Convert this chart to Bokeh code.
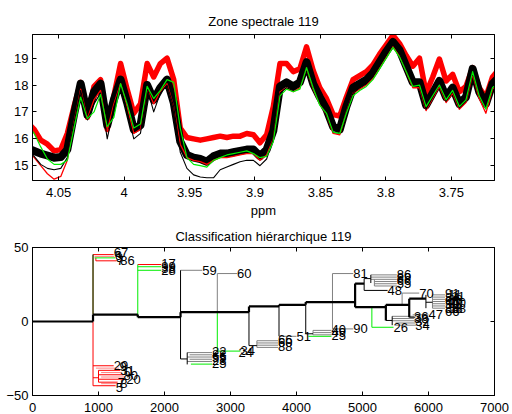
from bokeh.plotting import figure
from bokeh.models import Range1d, LinearAxis, FixedTicker
from bokeh.layouts import column
from bokeh.embed import file_html
from bokeh.resources import INLINE
from bokeh.core.properties import value

FONT = "Liberation Sans"
FS = "13px"

# ---------------- spectra (top plot) ----------------
ppm = [4.0738, 4.0687, 4.0637, 4.0586, 4.0535, 4.0484, 4.0434, 4.0383,
       4.0332, 4.0281, 4.0230, 4.0180, 4.0129, 4.0078, 4.0027, 3.9977,
       3.9926, 3.9875, 3.9824, 3.9774, 3.9723, 3.9672, 3.9621, 3.9571,
       3.9520, 3.9469, 3.9418, 3.9368, 3.9317, 3.9266, 3.9215, 3.9165,
       3.9114, 3.9063, 3.9012, 3.8962, 3.8911, 3.8860, 3.8809, 3.8759,
       3.8708, 3.8657, 3.8606, 3.8556, 3.8505, 3.8454, 3.8403, 3.8352,
       3.8302, 3.8251, 3.8200, 3.8149, 3.8099, 3.8048, 3.7997, 3.7946,
       3.7896, 3.7845, 3.7794, 3.7743, 3.7693, 3.7642, 3.7591, 3.7540,
       3.7490, 3.7439, 3.7388, 3.7337, 3.7287, 3.7236, 3.7185, 3.7134]

red_hi = [16.6, 16.35, 15.95, 15.8, 15.55, 15.6, 16.2, 17.2,
          18.1, 16.8, 17.95, 18.2, 16.35, 17.6, 18.8, 17.85,
          16.95, 17.3, 18.8, 18.3, 18.8, 19.0, 18.2, 16.4,
          16.05, 16.0, 15.95, 16.0, 16.05, 16.1, 16.05, 16.1,
          16.1, 16.2, 16.15, 15.85, 16.15, 17.2, 18.8, 18.8,
          18.5, 18.6, 19.42, 18.55, 17.9, 17.5, 16.9, 16.85,
          17.55, 18.2, 18.35, 18.5, 18.75, 19.15, 19.5, 19.85,
          19.55, 19.1, 18.7, 19.0, 17.7, 18.3, 18.97, 18.15,
          18.4, 17.75, 17.95, 18.65, 17.9, 17.55, 18.3, 18.6]

black_mid = [15.65, 15.55, 15.45, 15.38, 15.3, 15.32, 15.6, 16.9,
             18.05, 16.9, 17.75, 18.05, 16.5, 17.45, 18.2, 17.35,
             16.35, 16.5, 18.0, 17.45, 17.9, 18.2, 17.35, 15.9,
             15.4, 15.3, 15.25, 15.15, 15.35, 15.45, 15.45, 15.5,
             15.55, 15.6, 15.6, 15.35, 15.6, 16.3, 17.95, 18.1,
             17.95, 18.1, 18.85, 18.05, 17.55, 17.1, 16.45, 16.35,
             17.2, 17.9, 18.05, 18.2, 18.45, 18.85, 19.25, 19.6,
             19.3, 18.7, 18.1, 18.1, 17.25, 17.7, 18.15, 17.55,
             17.9, 17.3, 17.55, 18.6, 17.75, 17.3, 18.05, 18.3]

red_lo = [15.6, 15.3, 15.0, 14.7, 14.5, 14.6, 15.2, 16.6,
          17.85, 16.75, 17.45, 17.8, 16.3, 17.3, 18.05, 17.2,
          16.2, 16.35, 17.85, 17.3, 17.75, 18.05, 17.2, 15.8,
          15.3, 15.2, 15.15, 15.05, 15.2, 15.3, 15.3, 15.35,
          15.4, 15.45, 15.45, 15.2, 15.4, 16.0, 17.75, 17.9,
          17.75, 17.9, 18.65, 17.85, 17.3, 16.9, 16.2, 16.15,
          17.0, 17.7, 17.85, 18.0, 18.25, 18.65, 19.05, 19.45,
          19.1, 18.5, 17.9, 17.9, 17.05, 17.5, 17.95, 17.35,
          17.7, 17.1, 17.35, 18.4, 17.5, 16.95, 17.85, 18.1]

black_lo = [15.5, 15.35, 15.05, 14.9, 14.85, 14.9, 15.3, 16.6,
            17.8, 16.7, 17.3, 17.7, 16.0, 17.2, 18.0, 17.0,
            16.0, 16.2, 17.9, 17.0, 17.7, 18.0, 17.2, 15.5,
            14.9, 14.66, 14.58, 14.55, 14.55, 14.85, 14.95, 15.05,
            15.15, 15.2, 15.2, 15.0, 15.25, 16.0, 17.7, 17.9,
            17.8, 17.95, 18.7, 17.9, 17.35, 16.9, 16.25, 16.2,
            17.0, 17.7, 17.9, 18.05, 18.3, 18.7, 19.1, 19.5,
            19.15, 18.55, 17.95, 17.95, 17.1, 17.55, 18.0, 17.4,
            17.75, 17.15, 17.4, 18.45, 17.6, 17.15, 17.9, 18.15]

green = [16.5, 16.2, 15.7, 15.25, 15.05, 15.05, 15.2, 16.4,
         17.55, 16.75, 17.0, 17.65, 16.45, 16.8, 18.05, 17.3,
         16.4, 16.55, 17.95, 17.5, 17.8, 18.2, 18.1, 16.4,
         15.3, 15.05, 15.0, 14.95, 15.2, 15.3, 15.4, 15.45,
         15.5, 15.55, 15.45, 15.3, 15.35, 15.9, 17.6, 17.85,
         17.75, 17.85, 18.65, 17.9, 17.25, 16.95, 16.25, 16.2,
         16.95, 17.6, 17.8, 17.95, 18.2, 18.6, 19.0, 19.4,
         19.05, 18.5, 17.95, 18.0, 17.2, 17.6, 18.0, 17.45,
         17.8, 17.2, 17.45, 18.5, 17.6, 17.1, 17.9, 18.15]

ppm_ticks = [4.05, 4.0, 3.95, 3.9, 3.85, 3.8, 3.75]
ppm_labels = ["4.05", "4", "3.95", "3.9", "3.85", "3.8", "3.75"]
int_ticks = [15, 16, 17, 18, 19]

# ---------------- dendrogram (bottom plot) ----------------
trunk_x0 = [0, 917, 917, 1595, 1595, 2243, 2243, 3280, 3280, 3735, 3735, 4140, 4140, 4888, 4888, 4888, 5354, 5354, 5708, 5708]
trunk_y0 = [0, 0, 4.7, 4.7, 2.9, 2.9, 6.3, 6.3, 10.2, 10.2, 11.3, 11.3, 13.1, 9.7, 25.6, 9.7, 0.7, 11.3, 2.9, 15.4]
trunk_x1 = [917, 917, 1595, 1595, 2243, 2243, 3280, 3280, 3735, 3735, 4140, 4140, 4888, 4888, 5025, 5354, 5354, 5708, 5708, 5961]
trunk_y1 = [0, 4.7, 4.7, 2.9, 2.9, 6.3, 6.3, 10.2, 10.2, 11.3, 11.3, 13.1, 13.1, 25.6, 25.6, 9.7, 11.3, 11.3, 15.4, 15.4]

blk_x0 = [2243, 2243, 2344, 3280, 3280, 3735, 4140, 4140, 5025, 5025, 5126, 5354, 5450, 5961, 5961, 5025, 5708]
blk_y0 = [-25.3, -25.3, -21, -16.3, -16.3, -10, -8.3, -8.3, 21, 29, 26, 0.7, -2.5, 9, 13, 21, 2.9]
blk_x1 = [2243, 2344, 2344, 3280, 3400, 3735, 4140, 4250, 5025, 5126, 5126, 5450, 5450, 5961, 6060, 5380, 5800]
blk_y1 = [34.6, -25.3, -29, 6.3, -16.3, 10.2, 11.3, -8.3, 29, 29, 31.5, 0.7, 3.5, 18, 13, 21, 2.9]

gry_x0 = [2243, 2800, 2800, 4545, 4545, 4545, 3735,
          2344, 2380, 2344, 2380, 2344,
          3400, 3400, 3400, 3400, 3400,
          4250, 4250, 4250, 4250,
          5126, 5126, 5126, 5180, 5180, 5180, 5180,
          5600, 5600,
          5450, 5450, 5450, 5500, 5500, 5760,
          6060, 6060, 6060, 6060, 6060, 6060, 6060, 6060]
gry_y0 = [34.6, 6.3, 32.4, -5, 32.4, -5, -10,
          -21, -22.5, -24, -25.5, -27,
          -13, -14.5, -16, -17.5, -13,
          -6, -7.5, -9, -6,
          31.5, 30, 28.5, 27, 25.5, 24, 24,
          11.3, 19.2,
          3.5, 2, 0.5, -1, -2.5, 4.5,
          18, 16.5, 15, 13.5, 12, 10.5, 9, 9]
gry_x1 = [2571, 2800, 3100, 4545, 4860, 4860, 4000,
          2720, 2720, 2720, 2720, 2720,
          3720, 3720, 3720, 3720, 3400,
          4530, 4530, 4530, 4250,
          5520, 5520, 5520, 5520, 5520, 5520, 5180,
          5600, 5860,
          5780, 5780, 5800, 5800, 5820, 6000,
          6250, 6250, 6250, 6250, 6250, 6250, 6250, 6060]
gry_y1 = [34.6, 32.4, 32.4, 32.4, 32.4, -5, -10,
          -21, -22.5, -24, -25.5, -27,
          -13, -14.5, -16, -17.5, -17.5,
          -6, -7.5, -9, -9,
          31.5, 30, 28.5, 27, 25.5, 24, 28.5,
          19.2, 19.2,
          3.5, 2, 0.5, -1, -2.5, 4.5,
          18, 16.5, 15, 13.5, 12, 10.5, 9, 18]

red_x0 = [917, 917, 917, 1000, 1000, 1000, 1000, 1000, 917, 917, 960, 960, 1595]
red_y0 = [0, -29.9, -38, -33, -33, -36, -39, -41, -43.4, 45.2, 41, 41, 38.5]
red_x1 = [917, 1230, 1000, 1000, 1330, 1380, 1420, 1290, 1260, 1230, 1270, 960, 1950]
red_y1 = [-43.4, -29.9, -38, -41, -33, -36, -39, -41, -43.4, 45.2, 41, 43, 38.5]

pink_x0 = [960, 1040, 1040, 1040, 940]
pink_y0 = [-31.5, -34.5, -37.5, -42, 44]
pink_x1 = [1310, 1350, 1400, 1300, 1240]
pink_y1 = [-31.5, -34.5, -37.5, -42, 44]

grn_x0 = [1595, 1595, 1595, 940, 2800, 2800, 2400, 4180, 5142, 5142]
grn_y0 = [2.9, 37, 34.6, 43, 6.3, -20, -28.8, -10, 9.7, -3.9]
grn_x1 = [1595, 1950, 1950, 1250, 2800, 3150, 2720, 4530, 5142, 5470]
grn_y1 = [38.5, 37, 34.6, 43, -20, -20, -28.8, -10, -3.9, -3.9]

olive_x0 = [917]
olive_y0 = [4.7]
olive_x1 = [917]
olive_y1 = [45.2]

lab_text = ["67", "6", "3", "7", "86",
            "29", "9", "31", "0", "80", "20", "7", "8", "5",
            "17", "99", "38", "28",
            "59", "60",
            "22", "88", "55", "23", "25",
            "34", "24",
            "66", "60", "88",
            "51",
            "40", "49", "25",
            "81", "90",
            "86", "89", "66", "55", "48",
            "70",
            "36", "38", "32", "34", "47", "26",
            "91", "84", "68", "50", "86", "66",
            "11", "88", "00", "58", "11", "00", "88"]
lab_x = [1230, 1245, 1260, 1275, 1330,
         1230, 1320, 1330, 1400, 1380, 1420, 1290, 1330, 1260,
         1950, 1950, 1950, 1950,
         2571, 3100,
         2720, 2720, 2720, 2720, 2720,
         3150, 3120,
         3720, 3720, 3720,
         4000,
         4530, 4530, 4530,
         4860, 4860,
         5520, 5520, 5520, 5520, 5380,
         5860,
         5780, 5780, 5800, 5800, 6000, 5470,
         6250, 6250, 6250, 6250, 6250, 6250,
         6300, 6300, 6300, 6300, 6350, 6350, 6350]
lab_y = [46.5, 44.5, 43, 41, 41.2,
         -30, -30.5, -33.3, -34, -36.3, -39.3, -41.2, -42, -44.3,
         39, 37.3, 36, 34.5,
         34.6, 32.4,
         -20, -22, -24.5, -26.5, -28.5,
         -19.5, -21,
         -12, -14.5, -17,
         -10,
         -5.5, -7.5, -9.5,
         32.4, -5,
         31.5, 29.5, 27.5, 25.5, 21,
         19.2,
         3.5, 2, 0.3, -2.5, 4.5, -3.9,
         19, 16.5, 14, 11.5, 9, 6.5,
         18, 15, 12, 9, 17, 13, 9]

x_ticks2 = [0, 1000, 2000, 3000, 4000, 5000, 6000, 7000]
y_ticks2 = [-50, 0, 50]


def style_axis(ax, show=True, standoff=4):
    ax.major_tick_in = 4
    ax.major_tick_out = 0
    ax.minor_tick_in = 0
    ax.minor_tick_out = 0
    ax.minor_tick_line_color = None
    ax.axis_line_color = "black"
    ax.major_tick_line_color = "black"
    ax.major_label_text_font = FONT
    if show:
        ax.major_label_text_color = "black"
        ax.major_label_text_font_size = FS
        ax.major_label_standoff = standoff
    else:
        ax.major_label_text_color = None
        ax.major_label_text_alpha = 0
        ax.major_label_text_font_size = "0px"
        ax.major_label_standoff = 0


def make_fig(h, xr, yr, title, mbt, mbb, xt, yt, tstand, xstand):
    p = figure(width=512, height=h, x_range=xr, y_range=yr,
               output_backend="svg", toolbar_location=None,
               min_border_left=32, min_border_right=18,
               min_border_top=mbt, min_border_bottom=mbb)
    p.title.text = title
    p.title.align = "center"
    p.title.text_font = FONT
    p.title.text_font_size = FS
    p.title.text_font_style = "normal"
    p.title.text_color = "black"
    p.title.standoff = tstand
    p.grid.visible = False
    p.outline_line_color = "black"
    p.outline_line_alpha = 1.0
    p.background_fill_color = "white"
    p.border_fill_color = "white"
    xb = p.below[0]
    yl = p.left[0]
    xb.ticker = FixedTicker(ticks=xt)
    yl.ticker = FixedTicker(ticks=yt)
    style_axis(xb, True, xstand)
    style_axis(yl, True, 4)
    top = LinearAxis(ticker=FixedTicker(ticks=xt))
    style_axis(top, False)
    p.add_layout(top, "above")
    right = LinearAxis(ticker=FixedTicker(ticks=yt))
    style_axis(right, False)
    p.add_layout(right, "right")
    return p, xb


# ---- top: spectra ----
p1, xb1 = make_fig(220, Range1d(4.07, 3.717), Range1d(14.45, 19.88),
                   "Zone spectrale 119", 34, 38, ppm_ticks, int_ticks, 11, 7)
xb1.major_label_overrides = dict(zip(ppm_ticks, ppm_labels))
xb1.axis_label = "ppm"
xb1.axis_label_text_font = FONT
xb1.axis_label_text_font_size = FS
xb1.axis_label_text_font_style = "normal"
xb1.axis_label_text_color = "black"
xb1.axis_label_standoff = 3

p1.line(ppm, red_hi, line_color="#ff0000", line_width=5.5, line_join="round")
p1.line(ppm, black_mid, line_color="black", line_width=8, line_join="round")
p1.line(ppm, red_lo, line_color="#ff0000", line_width=1.3, line_join="round")
p1.line(ppm, black_lo, line_color="black", line_width=1.1, line_join="round")
p1.line(ppm, green, line_color="#00ee00", line_width=1.2, line_join="round")

# ---- bottom: dendrogram ----
p2, xb2 = make_fig(194, Range1d(0, 7000), Range1d(-50, 50),
                   "Classification hiérarchique 119", 27, 19, x_ticks2, y_ticks2, 8, 7)

p2.segment(x0=gry_x0, y0=gry_y0, x1=gry_x1, y1=gry_y1, line_color="#808080", line_width=1)
p2.segment(x0=pink_x0, y0=pink_y0, x1=pink_x1, y1=pink_y1, line_color="#ff8080", line_width=1)
p2.segment(x0=red_x0, y0=red_y0, x1=red_x1, y1=red_y1, line_color="#ff0000", line_width=1)
p2.segment(x0=grn_x0, y0=grn_y0, x1=grn_x1, y1=grn_y1, line_color="#00ee00", line_width=1)
p2.segment(x0=blk_x0, y0=blk_y0, x1=blk_x1, y1=blk_y1, line_color="black", line_width=1)
p2.segment(x0=olive_x0, y0=olive_y0, x1=olive_x1, y1=olive_y1, line_color="#3f3a00", line_width=1.5)
p2.segment(x0=trunk_x0, y0=trunk_y0, x1=trunk_x1, y1=trunk_y1, line_color="black", line_width=2.2)
p2.text(x=lab_x, y=lab_y, text=lab_text, text_font=value(FONT), text_font_size=FS,
        text_align="left", text_baseline="middle", text_color="black")

layout = column(p1, p2, spacing=0)
open("out.html", "w").write(file_html(layout, INLINE))
